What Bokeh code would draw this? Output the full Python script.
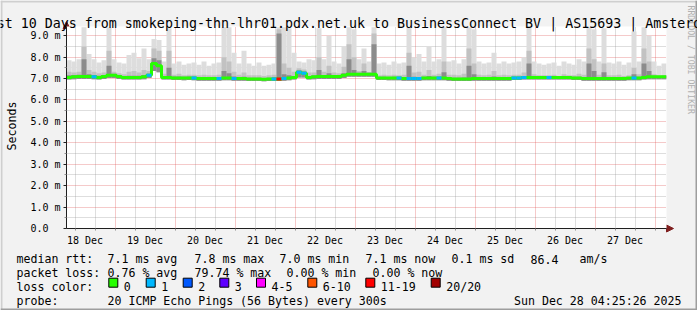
from bokeh.plotting import figure
from bokeh.models import Range1d, FixedTicker, Grid, Label, Arrow, NormalHead
from bokeh.embed import file_html
from bokeh.resources import INLINE
import math

# ---------------- data (hours since 18 Dec 00:00, 2-hour bins) ----------------
bin_start_h = 4.6
bin_hours = 2.0

median_ms = [
    7.05, 7.08, 7.10, 7.10, 7.10, 7.08, 7.05, 7.10, 7.15, 7.15,
    7.10, 7.05, 7.05, 7.05, 7.05, 7.08, 7.15, 7.70, 7.60, 7.05,
    7.05, 7.03, 7.03, 7.02, 7.03, 7.02, 7.00, 7.00, 7.00, 7.00,
    7.00, 7.02, 7.02, 7.00, 7.00, 7.00, 6.98, 6.98, 6.98, 6.97,
    6.98, 6.98, 6.98, 7.00, 7.02, 7.05, 7.30, 7.25, 7.05, 7.08,
    7.10, 7.10, 7.10, 7.10, 7.10, 7.15, 7.20, 7.20, 7.20, 7.20,
    7.20, 7.20, 7.03, 7.03, 7.02, 7.02, 7.02, 7.00, 7.00, 7.00,
    7.00, 7.02, 7.02, 7.02, 7.02, 7.02, 7.00, 6.98, 6.98, 6.98,
    6.98, 7.00, 7.00, 7.00, 7.00, 7.00, 7.00, 7.00, 7.00, 7.03,
    7.03, 7.05, 7.05, 7.05, 7.05, 7.05, 7.05, 7.05, 7.05, 7.05,
    7.05, 7.03, 7.03, 7.00, 7.00, 7.00, 7.00, 7.00, 7.00, 7.00,
    7.00, 7.00, 7.02, 7.02, 7.02, 7.05, 7.08, 7.08, 7.08, 7.08,
]

loss_count = [
    0, 0, 0, 0, 0, 1, 0, 0, 0, 0,
    0, 0, 0, 0, 0, 0, 1, 0, 0, 0,
    0, 0, 0, 0, 0, 1, 0, 0, 0, 0,
    1, 0, 0, 1, 0, 0, 0, 0, 0, 0,
    0, 1, 12, 1, 0, 0, 1, 1, 0, 0,
    0, 0, 0, 0, 0, 0, 0, 0, 0, 0,
    0, 0, 0, 0, 0, 0, 1, 0, 1, 1,
    1, 0, 0, 0, 1, 0, 0, 0, 0, 0,
    0, 0, 0, 0, 0, 0, 0, 0, 0, 1,
    1, 1, 0, 0, 0, 0, 1, 0, 0, 0,
    0, 0, 0, 0, 0, 0, 0, 0, 0, 0,
    0, 0, 0, 1, 0, 0, 0, 0, 0, 0,
]

smoke_min = [
    6.95, 6.97, 6.98, 6.98, 6.98, 6.97, 6.95, 6.98, 7.02, 7.02,
    6.98, 6.95, 6.95, 6.95, 6.95, 6.97, 7.02, 7.35, 7.30, 6.95,
    6.95, 6.93, 6.93, 6.92, 6.93, 6.92, 6.90, 6.90, 6.90, 6.90,
    6.90, 6.92, 6.92, 6.90, 6.90, 6.90, 6.88, 6.88, 6.88, 6.87,
    6.88, 6.88, 6.88, 6.90, 6.92, 6.95, 7.05, 7.05, 6.95, 6.97,
    6.98, 6.98, 6.98, 6.98, 6.98, 7.02, 7.08, 7.08, 7.08, 7.08,
    7.08, 7.08, 6.93, 6.93, 6.92, 6.92, 6.92, 6.90, 6.90, 6.90,
    6.90, 6.92, 6.92, 6.92, 6.92, 6.92, 6.90, 6.88, 6.88, 6.88,
    6.88, 6.90, 6.90, 6.90, 6.90, 6.90, 6.90, 6.90, 6.90, 6.93,
    6.93, 6.95, 6.95, 6.95, 6.95, 6.95, 6.95, 6.95, 6.95, 6.95,
    6.95, 6.93, 6.93, 6.90, 6.90, 6.90, 6.90, 6.90, 6.90, 6.90,
    6.90, 6.90, 6.92, 6.92, 6.92, 6.95, 6.97, 6.97, 6.97, 6.97,
]

smoke_max = [
    7.85, 7.80, 7.90, 9.40, 8.15, 7.90, 7.75, 7.85, 9.40, 7.90,
    7.75, 7.70, 8.10, 8.20, 7.95, 8.40, 7.90, 8.85, 8.80, 7.80,
    9.35, 7.70, 7.80, 7.65, 7.70, 7.75, 7.65, 7.80, 7.60, 7.70,
    7.75, 9.40, 9.40, 8.20, 7.70, 8.30, 7.70, 7.60, 7.75, 7.60,
    7.65, 7.70, 9.40, 9.40, 9.35, 8.20, 7.80, 7.75, 7.90, 7.85,
    9.35, 7.90, 9.00, 7.80, 7.70, 8.50, 9.40, 9.30, 7.90, 8.40,
    7.80, 9.40, 7.70, 7.75, 7.65, 7.80, 7.70, 7.75, 9.40, 8.00,
    8.15, 7.80, 8.50, 7.80, 7.90, 9.40, 7.80, 7.85, 7.70, 7.90,
    9.40, 9.30, 7.80, 7.70, 7.75, 8.20, 7.70, 7.80, 7.70, 7.75,
    7.80, 8.00, 9.40, 7.80, 7.70, 7.65, 7.70, 7.75, 7.60, 7.80,
    7.70, 7.65, 7.90, 7.80, 9.40, 9.30, 7.80, 9.35, 7.75, 7.70,
    7.80, 7.65, 7.75, 9.20, 7.80, 9.40, 9.00, 7.80, 7.60, 7.70,
]

smoke_mid = [
    7.32, 7.28, 7.32, 8.50, 7.40, 7.32, 7.25, 7.28, 8.30, 7.32,
    7.25, 7.20, 7.32, 7.35, 7.28, 7.40, 7.35, 8.40, 8.30, 7.22,
    8.30, 7.18, 7.22, 7.15, 7.18, 7.18, 7.15, 7.18, 7.15, 7.15,
    7.18, 8.00, 7.80, 7.32, 7.18, 7.28, 7.15, 7.15, 7.15, 7.12,
    7.15, 7.18, 9.30, 7.70, 7.50, 7.32, 7.48, 7.42, 7.28, 7.28,
    8.00, 7.32, 7.60, 7.28, 7.25, 7.55, 8.60, 8.00, 7.35, 7.70,
    7.30, 9.10, 7.15, 7.18, 7.15, 7.18, 7.15, 7.18, 8.20, 7.28,
    7.32, 7.18, 7.40, 7.18, 7.22, 7.80, 7.18, 7.18, 7.15, 7.22,
    8.40, 7.70, 7.18, 7.15, 7.18, 7.35, 7.15, 7.18, 7.15, 7.18,
    7.18, 7.28, 8.30, 7.20, 7.15, 7.15, 7.15, 7.18, 7.12, 7.20,
    7.15, 7.15, 7.22, 7.18, 8.40, 7.90, 7.18, 7.70, 7.15, 7.15,
    7.18, 7.12, 7.15, 7.50, 7.20, 8.40, 7.80, 7.20, 7.12, 7.15,
]

smoke_dark = [
    7.15, 7.17, 7.18, 7.90, 7.20, 7.17, 7.13, 7.17, 7.60, 7.22,
    7.17, 7.12, 7.13, 7.13, 7.13, 7.17, 7.22, 7.95, 7.85, 7.12,
    7.50, 7.10, 7.10, 7.08, 7.10, 7.08, 7.07, 7.07, 7.06, 7.06,
    7.07, 7.35, 7.25, 7.10, 7.06, 7.08, 7.04, 7.04, 7.04, 7.03,
    7.04, 7.05, 9.10, 7.20, 7.15, 7.12, 7.38, 7.33, 7.12, 7.14,
    7.40, 7.16, 7.25, 7.16, 7.16, 7.25, 7.90, 7.40, 7.27, 7.35,
    7.27, 8.60, 7.08, 7.09, 7.07, 7.08, 7.07, 7.06, 7.60, 7.08,
    7.07, 7.08, 7.12, 7.08, 7.08, 7.30, 7.06, 7.04, 7.04, 7.05,
    7.60, 7.20, 7.06, 7.06, 7.06, 7.10, 7.06, 7.06, 7.06, 7.09,
    7.09, 7.12, 7.70, 7.11, 7.10, 7.10, 7.10, 7.11, 7.10, 7.10,
    7.10, 7.08, 7.09, 7.06, 7.70, 7.35, 7.06, 7.30, 7.06, 7.06,
    7.06, 7.05, 7.07, 7.20, 7.08, 7.70, 7.35, 7.13, 7.13, 7.13,
]

day_labels = ["18 Dec", "19 Dec", "20 Dec", "21 Dec", "22 Dec",
              "23 Dec", "24 Dec", "25 Dec", "26 Dec", "27 Dec"]
y_ticks = [0, 1, 2, 3, 4, 5, 6, 7, 8, 9]
y_tick_labels = ["0.0\u00a0\u00a0", "1.0 m", "2.0 m", "3.0 m", "4.0 m",
                 "5.0 m", "6.0 m", "7.0 m", "8.0 m", "9.0 m"]

loss_legend = [("0", 0, "#26ff00"), ("1", 1, "#00b8ff"), ("2", 2, "#0059ff"),
               ("3", 3, "#5e00ff"), ("4-5", 5, "#ff00ff"), ("6-10", 10, "#ff5500"),
               ("11-19", 19, "#ff0000"), ("20/20", 20, "#a10000")]

title_text = ("Last 10 Days from smokeping-thn-lhr01.pdx.net.uk to "
              "BusinessConnect BV | AS15693 | Amsterdam")
legend_line1 = [(16, "median rtt:"), (107, "7.1 ms avg"), (194, "7.8 ms max"),
                (279, "7.0 ms min"), (365, "7.1 ms now"), (451, "0.1 ms sd"),
                (530, "86.4"), (579, "am/s")]
legend_line2 = [(16, "packet loss:"), (107, "0.76 % avg"), (194, "79.74 % max"),
                (286, "0.00 % min"), (372, "0.00 % now")]
probe_text = "20 ICMP Echo Pings (56 Bytes) every 300s"
stamp_text = "Sun Dec 28 04:25:26 2025"

# ---------------- geometry ----------------
FONT = "DejaVu Sans Mono"
N = len(median_ms)
X0 = bin_start_h
X1 = X0 + N * bin_hours
YMAX = 9.43
W, H = 697, 310
FL, FT, FW, FH = 66, 26, 600, 202   # chart frame in page pixels

# ================= background page (texts, legend, frame chrome) =================
bg = figure(width=W, height=H, output_backend="svg", toolbar_location=None,
            x_range=Range1d(0, W), y_range=Range1d(H, 0), title=None,
            x_axis_type=None, y_axis_type=None,
            min_border_left=0, min_border_right=0, min_border_top=0, min_border_bottom=0)
bg.background_fill_color = "#F2F2F2"
bg.border_fill_color = "#F2F2F2"
bg.outline_line_color = None
bg.grid.visible = False

# 3d border
bg.quad(left=[0, 0], right=[W, 2], top=[0, 0], bottom=[2, H], fill_color="#CFCFCF", line_color=None)
bg.quad(left=[W - 2, 0], right=[W, W], top=[0, H - 2], bottom=[H, H], fill_color="#9E9E9E",
        line_color=None)


def put(target, px, py, text, size="11.6px", align="left", color="black", angle=0.0,
        baseline="alphabetic"):
    target.add_layout(Label(x=px, y=py, text=text, text_font=FONT,
                            text_font_size=size, text_align=align, text_color=color,
                            text_baseline=baseline, angle=angle))


put(bg, 690, 5, "RRDTOOL / TOBI OETIKER", size="8.2px", color="#B0B0B0",
    angle=-math.pi / 2, baseline="middle")
put(bg, 11, 125.5, "Seconds", align="center", baseline="middle", angle=math.pi / 2)

L1, L2, L3, L4 = 258.5, 272.5, 286.3, 300.3
for px, t in legend_line1:
    put(bg, px, L1, t)
for px, t in legend_line2:
    put(bg, px, L2, t)
put(bg, 16, L3, "loss color:")
sq_x = [108.3, 145.7, 182.7, 219.3, 256.0, 307.3, 365.3, 430.7]
bg.quad(left=sq_x, right=[x + 9 for x in sq_x], top=[277.7] * len(sq_x),
        bottom=[286.7] * len(sq_x), fill_color=[c for _, _, c in loss_legend],
        line_color="black", line_width=1)
for sx, (lab, _, col) in zip(sq_x, loss_legend):
    put(bg, sx + 15, L3, lab)
put(bg, 16, L4, "probe:")
put(bg, 107, L4, probe_text)
put(bg, 681, L4, stamp_text, align="right")

ARROW = "#7F1F1F"
AX = "#1F1F1F"
bg.add_layout(Arrow(x_start=FL + FW, y_start=FT + FH, x_end=FL + FW + 7, y_end=FT + FH,
                    line_color=AX, line_width=1,
                    end=NormalHead(size=7, fill_color=ARROW, line_color=ARROW)))
bg.add_layout(Arrow(x_start=FL, y_start=FT, x_end=FL, y_end=21,
                    line_color=AX, line_width=1,
                    end=NormalHead(size=7, fill_color=ARROW, line_color=ARROW)))

# ================= chart =================
p = figure(width=W, height=H, output_backend="svg", toolbar_location=None, title=None,
           x_range=Range1d(X0, X1), y_range=Range1d(0, YMAX),
           min_border_left=FL, min_border_right=W - (FL + FW),
           min_border_top=FT, min_border_bottom=H - (FT + FH))
p.styles = {"position": "absolute", "top": "0px", "left": "0px"}
p.background_fill_color = "white"
p.border_fill_alpha = 0.0
p.outline_line_color = None
p.xgrid.visible = False
p.ygrid.visible = False

midnights = [24.0 * d for d in range(1, 11) if X0 < 24.0 * d < X1]
x_minor = [8.0 * i for i in range(0, 32) if X0 < 8.0 * i < X1 and (8 * i) % 24 != 0]
y_minor = [0.5 + i for i in range(0, 9)]
MINOR = "#8F8F8F"
MAJOR = "#DE4F4F"
p.add_layout(Grid(dimension=0, ticker=FixedTicker(ticks=x_minor), grid_line_color=MINOR,
                  grid_line_alpha=0.6, grid_line_dash="1 1"))
p.add_layout(Grid(dimension=1, ticker=FixedTicker(ticks=y_minor), grid_line_color=MINOR,
                  grid_line_alpha=0.6, grid_line_dash="1 1"))
p.add_layout(Grid(dimension=0, ticker=FixedTicker(ticks=midnights), grid_line_color=MAJOR,
                  grid_line_alpha=0.6, grid_line_dash="1 1"))
p.add_layout(Grid(dimension=1, ticker=FixedTicker(ticks=y_ticks[1:]), grid_line_color=MAJOR,
                  grid_line_alpha=0.6, grid_line_dash="1 1"))

# smoke
lefts = [X0 + k * bin_hours for k in range(N)]
rights = [X0 + (k + 1) * bin_hours for k in range(N)]
for tops, col in [(smoke_max, "#DDDDDD"), (smoke_mid, "#C2C2C2"), (smoke_dark, "#8C8C8C")]:
    p.quad(left=lefts, right=rights, bottom=smoke_min, top=tops,
           fill_color=col, line_color=None)


def loss_color(c):
    for _, thr, col in loss_legend:
        if c <= thr:
            return col
    return loss_legend[-1][2]


edges = lefts + [X1]
p.step(x=edges, y=median_ms + [median_ms[-1]], mode="after",
       line_color=loss_legend[0][2], line_width=3)
sel = [k for k in range(N) if loss_count[k] > 0]
p.segment(x0=[lefts[k] for k in sel], y0=[median_ms[k] for k in sel],
          x1=[rights[k] for k in sel], y1=[median_ms[k] for k in sel],
          line_color=[loss_color(loss_count[k]) for k in sel], line_width=3)

# axes
noons = [12.0 + 24.0 * d for d in range(len(day_labels))]
xa = p.xaxis[0]
xa.ticker = FixedTicker(ticks=noons, minor_ticks=x_minor + midnights)
xa.major_label_overrides = {t: s for t, s in zip(noons, day_labels)}
xa.major_tick_out = 0
xa.major_tick_in = 0
xa.minor_tick_out = 2
xa.minor_tick_in = 0
xa.minor_tick_line_color = MINOR
xa.axis_line_color = AX
xa.major_label_standoff = 4
xa.major_label_text_font = FONT
xa.major_label_text_font_size = "10px"
xa.major_label_text_color = "black"

ya = p.yaxis[0]
ya.ticker = FixedTicker(ticks=y_ticks, minor_ticks=y_minor)
ya.major_label_overrides = {t: s for t, s in zip(y_ticks, y_tick_labels)}
ya.major_tick_out = 3
ya.major_tick_in = 0
ya.minor_tick_out = 2
ya.minor_tick_in = 0
ya.major_tick_line_color = AX
ya.minor_tick_line_color = MINOR
ya.axis_line_color = AX
ya.major_label_standoff = 3
ya.major_label_text_font = FONT
ya.major_label_text_font_size = "10px"
ya.major_label_text_color = "black"

# title: a separate transparent overlay on top of the chart so its descenders are not covered
tl = figure(width=W, height=H, output_backend="svg", toolbar_location=None, title=None,
            x_range=Range1d(0, W), y_range=Range1d(H, 0),
            x_axis_type=None, y_axis_type=None,
            min_border_left=0, min_border_right=0, min_border_top=0, min_border_bottom=0)
tl.styles = {"position": "absolute", "top": "0px", "left": "0px", "pointer-events": "none"}
tl.background_fill_alpha = 0.0
tl.border_fill_alpha = 0.0
tl.outline_line_color = None
tl.grid.visible = False
put(tl, 348.5, 22.8, title_text, size="13.3px", align="center")

open("out.html", "w").write(file_html([bg, p, tl], INLINE))
